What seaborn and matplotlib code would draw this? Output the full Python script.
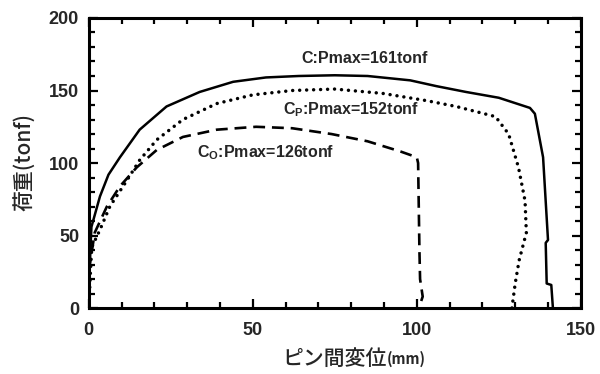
import matplotlib
matplotlib.use("Agg")
import matplotlib.pyplot as plt
import seaborn as sns
import pandas as pd
from matplotlib.ticker import MultipleLocator

# Series C (solid)
c_x = [0, 0.3, 0.8, 3.4, 6, 9.5, 15.5, 23.7, 33.8, 44, 54, 64, 75, 85, 98, 106, 115, 125, 134.5, 136, 138.5, 140, 139.3, 139.6, 141, 141.5]
c_y = [0, 30, 56, 77, 92, 104, 123, 139, 149, 156, 159, 160, 160.5, 160, 157, 153, 149, 145, 138, 134, 104, 47, 45, 17, 16, 0]
# Series Cp (dotted)
cp_x = [0, 0.5, 0.9, 3.4, 6.4, 11.6, 15.5, 20.7, 28.7, 39, 50, 62, 75, 89.6, 103, 112, 124, 128, 131, 133, 133.4, 131.2, 130, 129]
cp_y = [0, 25, 42, 54, 70, 88, 102, 116, 130, 141, 147, 150, 151, 148, 143, 139, 132, 120, 97, 74, 52, 33, 17, 0]
# Series Co (dashed)
co_x = [0, 0.3, 1.8, 5.5, 9.5, 14.6, 20.7, 28.7, 39, 51, 62, 74, 85, 95, 100, 100.4, 100.8, 101, 101.8, 100.6]
co_y = [0, 30, 52, 70, 84, 97, 109, 118, 123, 125, 124, 120, 115, 108, 104, 100, 40, 20, 8, 0]

labels = ["C:Pmax=161tonf", "C$_\\mathrm{P}$:Pmax=152tonf", "C$_\\mathrm{O}$:Pmax=126tonf"]
xticks = [0, 50, 100, 150]
yticks = [0, 50, 100, 150, 200]

sns.set_theme(style="ticks")
plt.rcParams['font.family'] = ['Liberation Sans', 'Noto Sans CJK JP', 'DejaVu Sans']
plt.rcParams['mathtext.fontset'] = 'custom'
plt.rcParams['mathtext.rm'] = 'Liberation Sans:bold'
plt.rcParams['mathtext.it'] = 'Liberation Sans:bold'
plt.rcParams['mathtext.bf'] = 'Liberation Sans:bold'

fig = plt.figure(figsize=(6, 3.74), dpi=100)
ax = fig.add_axes([0.148, 0.176, 0.82, 0.776])

df_c = pd.DataFrame({"x": c_x, "y": c_y})
df_cp = pd.DataFrame({"x": cp_x, "y": cp_y})
df_co = pd.DataFrame({"x": co_x, "y": co_y})

sns.lineplot(data=df_c, x="x", y="y", sort=False, estimator=None, ax=ax, color="black", lw=1.8)
sns.lineplot(data=df_cp, x="x", y="y", sort=False, estimator=None, ax=ax, color="black", lw=2.5,
             linestyle=(0, (0.01, 2.0)), dash_capstyle="round")
sns.lineplot(data=df_co, x="x", y="y", sort=False, estimator=None, ax=ax, color="black", lw=1.9,
             linestyle=(0, (4.5, 2.6)))

ax.set_xlim(0, 150)
ax.set_ylim(0, 200)
ax.set_xticks(xticks)
ax.set_yticks(yticks)
ax.xaxis.set_minor_locator(MultipleLocator(10))
ax.yaxis.set_minor_locator(MultipleLocator(10))
ax.tick_params(which="both", direction="in", top=True, right=True, width=1.6, color="black")
ax.tick_params(which="major", length=6.5, labelsize=13)
ax.tick_params(which="minor", length=4.5)
ax.tick_params(axis="x", which="major", pad=10)
ax.tick_params(axis="y", which="major", pad=7)
for lab in ax.get_xticklabels() + ax.get_yticklabels():
    lab.set_fontweight("bold")
for s in ax.spines.values():
    s.set_linewidth(2.2)
    s.set_color("black")

ax.text(84, 172, labels[0], ha="center", va="center", fontsize=11.5, fontweight="bold")
ax.text(80, 137, labels[1], ha="center", va="center", fontsize=11.5, fontweight="bold")
ax.text(54, 107, labels[2], ha="center", va="center", fontsize=11.5, fontweight="bold")

ax.set_xlabel("")
ax.set_ylabel("")
fig.text(0.645, 0.04, "ピン間変位", ha="right", va="center", fontsize=15,
         family=['Noto Sans CJK JP', 'DejaVu Sans'], fontweight="medium")
fig.text(0.645, 0.04, "(mm)", ha="left", va="center", fontsize=10.5, fontweight="bold",
         family=['Noto Sans CJK JP', 'DejaVu Sans'])
fig.text(0.042, 0.567, "荷重(tonf)", ha="center", va="center", rotation=90, fontsize=15,
         family=['Noto Sans CJK JP', 'DejaVu Sans'], fontweight="medium")

fig.savefig("out.png", dpi=100)
